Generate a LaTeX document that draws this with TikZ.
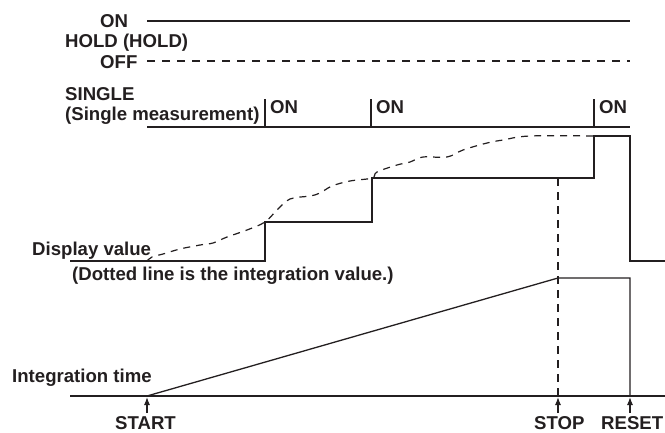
\documentclass[tikz,border=0pt]{standalone}
\usepackage{fontspec}
\setmainfont{Liberation Sans}
\usetikzlibrary{arrows.meta}
\definecolor{ink}{RGB}{35,31,32}
\begin{document}
\begin{tikzpicture}[x=1pt,y=-1pt,
  lbl/.style={anchor=base west, inner sep=0pt, text=ink, font=\fontsize{18.6}{22}\selectfont\bfseries},
  sig/.style={draw=ink, line width=1.3pt},
  dsh/.style={draw=ink, line width=1.3pt, dash pattern=on 8pt off 7pt},
  curve/.style={draw=ink, line width=1.2pt, dash pattern=on 7pt off 6pt},
  tip/.style={draw=ink, line width=1.2pt, -{Latex[length=8pt,width=6pt]}}]
\useasboundingbox (0,0) rectangle (665,432);
% HOLD
\node[lbl] (on1) at (100,27) {ON};
\node[lbl] (hold) at (65,47) {HOLD (HOLD)};
\node[lbl] (off) at (100,68) {OFF};
\draw[sig] (147,21) -- (630,21);
\draw[dsh] (147,61) -- (630,61);
% SINGLE
\node[lbl] (single) at (65,100) {SINGLE};
\node[lbl] (singlem) at (65,120) {(Single measurement)};
\draw[sig] (147,127) -- (630,127);
\foreach \x/\n in {265/a,371/b,594/c}{
  \draw[sig] (\x,99) -- (\x,127);
  \node[lbl] (on\n) at (\x+5,113) {ON};
}
% Display value
\node[lbl] (disp) at (32,255) {Display value};
\node[lbl] (dotted) at (72,280) {(Dotted line is the integration value.)};
\draw[sig] (70,261) -- (265,261) -- (265,222) -- (372,222) -- (372,178) -- (594,178)
  -- (594,136) -- (630,136) -- (630,261) -- (665,261);
\draw[curve] plot[smooth, tension=0.6] coordinates {
  (147,261) (152,257) (163,254) (180,249) (200,245) (213,243) (227,237) (247,230) (265,222)
  (277,210) (290,199) (310,196) (320,193) (332,186) (350,181) (372,178)
  (377,172) (397,165) (410,162) (423,157) (447,157) (463,150) (487,143) (503,140) (530,136) (594,136)};
% Integration time
\node[lbl] (itime) at (12,382) {Integration time};
\draw[sig] (70,396) -- (665,396);
\draw[sig] (147,396) -- (558,278) -- (630,278) -- (630,396);
\draw[ink, line width=1.2pt, dash pattern=on 8pt off 6pt] (558,178) -- (558,396);
% markers
\coordinate (s0) at (147,413); \coordinate (s1) at (147,397);
\coordinate (p0) at (558,413); \coordinate (p1) at (558,397);
\coordinate (r0) at (630,413); \coordinate (r1) at (630,397);
\draw[tip] (s0) -- (s1);
\draw[tip] (p0) -- (p1);
\draw[tip] (r0) -- (r1);
\node[lbl] (start) at (115,429) {START};
\node[lbl] (stop) at (534,429) {STOP};
\node[lbl] (reset) at (601,429) {RESET};
\end{tikzpicture}
\end{document}
